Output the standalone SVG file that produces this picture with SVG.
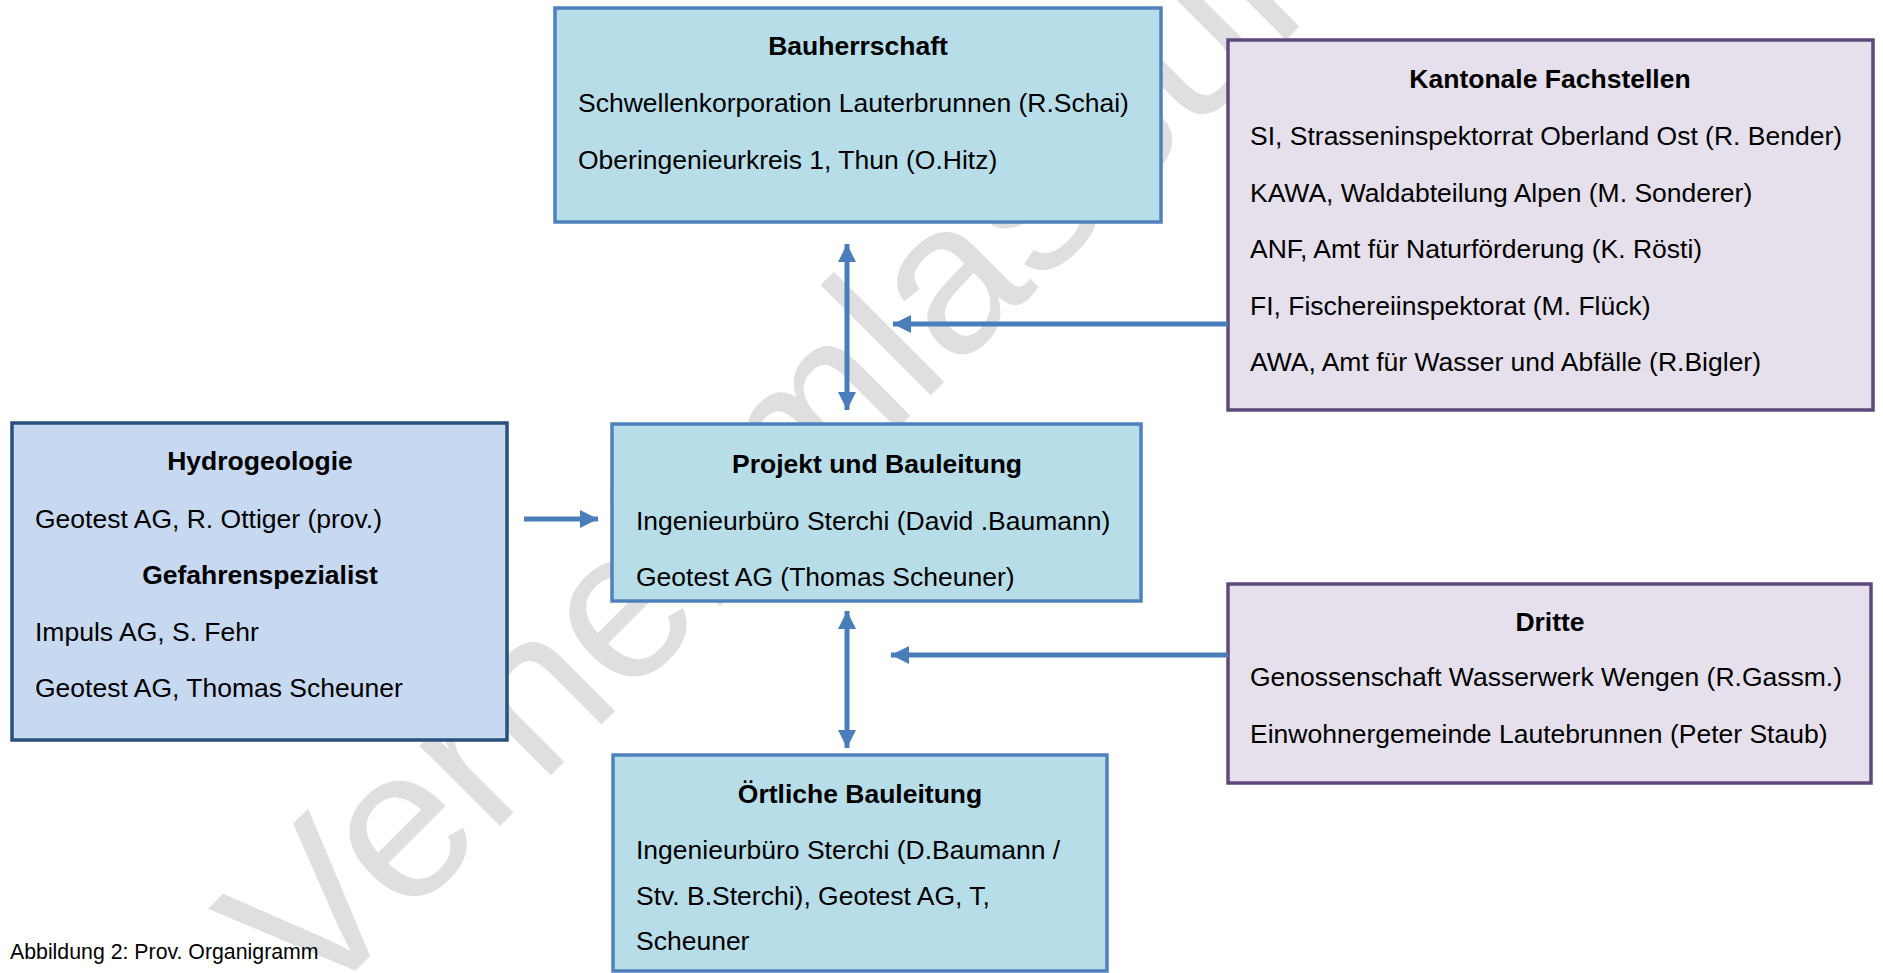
<svg xmlns="http://www.w3.org/2000/svg" width="1883" height="973" viewBox="0 0 1883 973">
<style>
  text { font-family: "Liberation Sans", Arial, sans-serif; font-size: 26.5px; fill: #000; }
  .t { font-weight: bold; text-anchor: middle; }
  .cap { font-size: 21.3px; }
  .wm { font-size: 215px; fill: #dfdfdf; }
  .blue { fill: #b7dde8; stroke: #4f81bd; stroke-width: 3.5; }
  .hyd { fill: #c6d9f1; stroke: #294f7e; stroke-width: 3.5; }
  .pur { fill: #e5e0ec; stroke: #5f497a; stroke-width: 3.5; }
  .con line { stroke: #4a7ebb; stroke-width: 5; fill: none; }
</style>
<defs>
  <marker id="ah" markerUnits="userSpaceOnUse" markerWidth="18" markerHeight="18" refX="18" refY="9" orient="auto-start-reverse">
    <path d="M0,0 L18,9 L0,18 z" fill="#4a7ebb"/>
  </marker>
</defs>
<rect width="1883" height="973" fill="#fff"/>
<text class="wm" x="312" y="1014" transform="rotate(-45 312 1014)">Vernehmlassung</text>

<g id="bauherrschaft">
  <rect class="blue" x="555" y="8" width="606" height="214"/>
  <text class="t" x="858" y="55">Bauherrschaft</text>
  <text x="578" y="112">Schwellenkorporation Lauterbrunnen (R.Schai)</text>
  <text x="578" y="169">Oberingenieurkreis 1, Thun (O.Hitz)</text>
</g>

<g id="kantonale">
  <rect class="pur" x="1228" y="40" width="645" height="370"/>
  <text class="t" x="1550" y="88">Kantonale Fachstellen</text>
  <text x="1250" y="145">SI, Strasseninspektorrat Oberland Ost (R. Bender)</text>
  <text x="1250" y="202">KAWA, Waldabteilung Alpen (M. Sonderer)</text>
  <text x="1250" y="258">ANF, Amt für Naturförderung (K. Rösti)</text>
  <text x="1250" y="315">FI, Fischereiinspektorat (M. Flück)</text>
  <text x="1250" y="371">AWA, Amt für Wasser und Abfälle (R.Bigler)</text>
</g>

<g id="hydrogeologie">
  <rect class="hyd" x="12" y="423" width="495" height="317"/>
  <text class="t" x="260" y="470">Hydrogeologie</text>
  <text x="35" y="528">Geotest AG, R. Ottiger (prov.)</text>
  <text class="t" x="260" y="584">Gefahrenspezialist</text>
  <text x="35" y="641">Impuls AG, S. Fehr</text>
  <text x="35" y="697">Geotest AG, Thomas Scheuner</text>
</g>

<g id="projekt">
  <rect class="blue" x="612" y="424" width="529" height="177"/>
  <text class="t" x="877" y="473">Projekt und Bauleitung</text>
  <text x="636" y="530">Ingenieurbüro Sterchi (David .Baumann)</text>
  <text x="636" y="586">Geotest AG (Thomas Scheuner)</text>
</g>

<g id="dritte">
  <rect class="pur" x="1228" y="584" width="643" height="199"/>
  <text class="t" x="1550" y="631">Dritte</text>
  <text x="1250" y="686">Genossenschaft Wasserwerk Wengen (R.Gassm.)</text>
  <text x="1250" y="743">Einwohnergemeinde Lautebrunnen (Peter Staub)</text>
</g>

<g id="oertliche">
  <rect class="blue" x="613" y="755" width="494" height="216"/>
  <text class="t" x="860" y="803">Örtliche Bauleitung</text>
  <text x="636" y="859">Ingenieurbüro Sterchi (D.Baumann /</text>
  <text x="636" y="905">Stv. B.Sterchi), Geotest AG, T,</text>
  <text x="636" y="950">Scheuner</text>
</g>

<g id="caption">
  <text class="cap" x="10" y="959">Abbildung 2: Prov. Organigramm</text>
</g>

<g id="connectors" class="con">
  <line x1="847" y1="244" x2="847" y2="410" marker-start="url(#ah)" marker-end="url(#ah)"/>
  <line x1="1228" y1="324" x2="893" y2="324" marker-end="url(#ah)"/>
  <line x1="524" y1="519" x2="598" y2="519" marker-end="url(#ah)"/>
  <line x1="847" y1="611" x2="847" y2="748" marker-start="url(#ah)" marker-end="url(#ah)"/>
  <line x1="1228" y1="655" x2="891" y2="655" marker-end="url(#ah)"/>
</g>
</svg>
